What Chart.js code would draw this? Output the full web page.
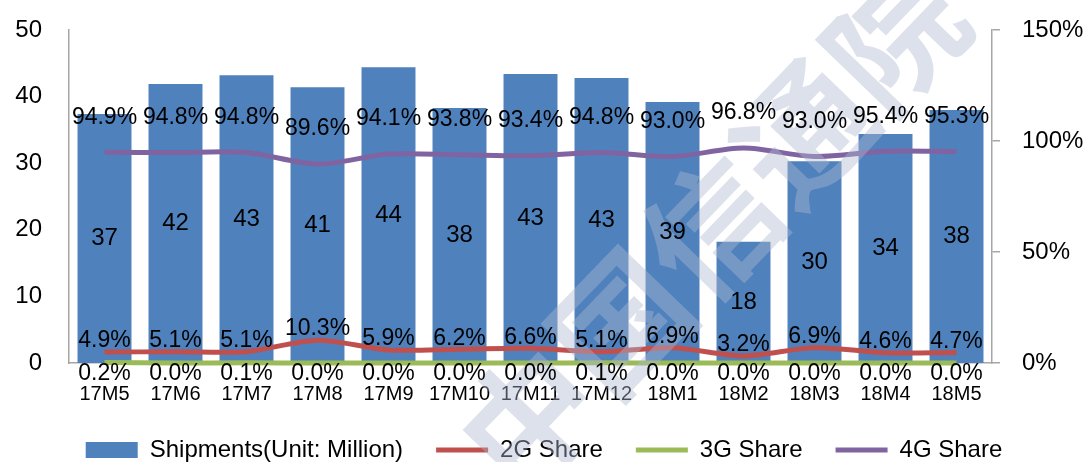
<!DOCTYPE html>
<html>
<head>
<meta charset="utf-8">
<script src="https://cdn.jsdelivr.net/npm/chart.js@4/dist/chart.umd.min.js"></script>
<style>
html,body{margin:0;padding:0;background:#fff;}
#wrap{width:1088px;height:462px;position:relative;}
</style>
</head>
<body>
<div id="wrap"><canvas id="c" width="1088" height="462"></canvas></div>
<script>
const categories = ['17M5','17M6','17M7','17M8','17M9','17M10','17M11','17M12','18M1','18M2','18M3','18M4','18M5'];
const shipments = [37.4, 41.9, 43.2, 41.4, 44.4, 38.3, 43.4, 42.8, 39.2, 18.2, 30.3, 34.4, 38.0];
const share2G = [4.9, 5.1, 5.1, 10.3, 5.9, 6.2, 6.6, 5.1, 6.9, 3.2, 6.9, 4.6, 4.7];
const share3G = [0.2, 0.0, 0.1, 0.0, 0.0, 0.0, 0.0, 0.1, 0.0, 0.0, 0.0, 0.0, 0.0];
const share4G = [94.9, 94.8, 94.8, 89.6, 94.1, 93.8, 93.4, 94.8, 93.0, 96.8, 93.0, 95.4, 95.3];
const leftTicks = [0, 10, 20, 30, 40, 50];
const rightTicks = [0, 50, 100, 150];
const watermarkText = '中国信通院';

const FONT = '"Liberation Sans", Arial, Helvetica, sans-serif';

const watermarkPlugin = {
  id: 'watermark',
  afterDatasetsDraw(chart) {
    const ctx = chart.ctx;
    ctx.save();
    ctx.translate(712, 228);
    ctx.rotate(-46 * Math.PI / 180);
    ctx.font = 'bold 132px "Noto Sans CJK SC", sans-serif';
    ctx.textAlign = 'center';
    ctx.textBaseline = 'middle';
    ctx.fillStyle = 'rgba(175,183,208,0.42)';
    ctx.fillText(watermarkText, 0, 0);
    ctx.restore();
  }
};

const labelPlugin = {
  id: 'valueLabels',
  afterDatasetsDraw(chart) {
    const ctx = chart.ctx;
    ctx.save();
    ctx.fillStyle = '#000';
    ctx.textAlign = 'center';
    ctx.textBaseline = 'middle';
    chart.data.datasets.forEach((ds, i) => {
      const meta = chart.getDatasetMeta(i);
      meta.data.forEach((el, j) => {
        const v = ds.data[j];
        let text, y;
        if (meta.type === 'bar') {
          ctx.font = '24px ' + FONT;
          text = String(Math.round(v));
          y = (el.y + el.base) / 2;
        } else {
          ctx.font = '23px ' + FONT;
          text = v.toFixed(1) + '%';
          y = el.y + ds.labelDy;
        }
        ctx.fillText(text, el.x, y);
      });
    });
    ctx.restore();
  }
};

new Chart(document.getElementById('c'), {
  data: {
    labels: categories,
    datasets: [
      {
        type: 'bar',
        label: 'Shipments(Unit: Million)',
        data: shipments,
        backgroundColor: '#4F81BD',
        borderWidth: 0,
        yAxisID: 'y',
        categoryPercentage: 1,
        barPercentage: 0.76,
        order: 2,
        pointStyle: 'rect'
      },
      {
        type: 'line',
        label: '2G Share',
        data: share2G,
        borderColor: '#C0504D',
        backgroundColor: '#C0504D',
        borderWidth: 5,
        pointRadius: 0,
        tension: 0.3,
        yAxisID: 'y1',
        order: 1,
        labelDy: -11,
        pointStyle: 'line'
      },
      {
        type: 'line',
        label: '3G Share',
        data: share3G,
        borderColor: '#9BBB59',
        backgroundColor: '#9BBB59',
        borderWidth: 5,
        pointRadius: 0,
        tension: 0.3,
        yAxisID: 'y1',
        order: 1,
        labelDy: 11,
        pointStyle: 'line',
        clip: 6
      },
      {
        type: 'line',
        label: '4G Share',
        data: share4G,
        borderColor: '#8064A2',
        backgroundColor: '#8064A2',
        borderWidth: 5,
        pointRadius: 0,
        tension: 0.3,
        yAxisID: 'y1',
        order: 0,
        labelDy: -35,
        pointStyle: 'line'
      }
    ]
  },
  options: {
    responsive: false,
    animation: false,
    layout: { padding: { top: 30, left: 0, right: 0, bottom: -10 } },
    plugins: {
      tooltip: { enabled: false },
      legend: {
        position: 'bottom',
        labels: {
          usePointStyle: true,
          pointStyleWidth: 52,
          boxHeight: 16,
          padding: 33,
          color: '#000',
          font: { family: FONT, size: 24 },
          sort: (a, b) => a.datasetIndex - b.datasetIndex
        }
      }
    },
    scales: {
      x: {
        type: 'category',
        grid: { display: false, drawTicks: false },
        border: { display: true, color: '#A6A6A6', width: 1.5 },
        ticks: { color: '#000', font: { family: FONT, size: 20 }, padding: 19, maxRotation: 0, autoSkip: false },
        afterFit: (s) => { s.height = 42; }
      },
      y: {
        position: 'left',
        min: 0, max: 50,
        afterBuildTicks: (s) => { s.ticks = leftTicks.map(v => ({ value: v })); },
        grid: { display: false, drawTicks: false },
        border: { display: true, color: '#A6A6A6', width: 1.5 },
        ticks: { color: '#000', font: { family: FONT, size: 24 }, padding: 27 },
        afterFit: (s) => { s.width = 69; s.paddingTop = 12; s.paddingBottom = 12; }
      },
      y1: {
        position: 'right',
        min: 0, max: 150,
        afterBuildTicks: (s) => { s.ticks = rightTicks.map(v => ({ value: v })); },
        grid: { display: true, drawOnChartArea: false, drawTicks: true, tickLength: 8, color: '#A6A6A6', lineWidth: 1.5 },
        border: { display: true, color: '#A6A6A6', width: 1.5 },
        ticks: { color: '#000', font: { family: FONT, size: 24 }, padding: 22, callback: (v) => v + '%' },
        afterFit: (s) => { s.width = 96; s.paddingTop = 12; s.paddingBottom = 12; }
      }
    }
  },
  plugins: [watermarkPlugin, labelPlugin]
});
</script>
</body>
</html>
